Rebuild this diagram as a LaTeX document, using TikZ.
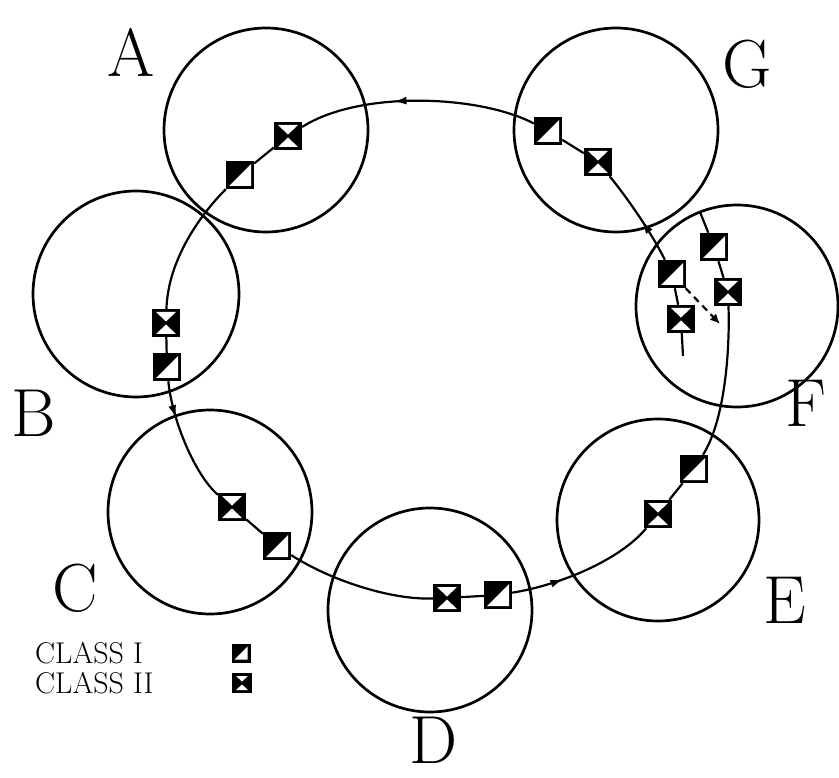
\documentclass[tikz,border=0pt]{standalone}
\usepackage{fontspec}
\usetikzlibrary{arrows.meta,decorations.markings}
\begin{document}
\begin{tikzpicture}[x=1pt,y=-1pt,
  ring/.style={draw, circle, line width=2.7pt, minimum size=#1, inner sep=0},
  conn/.style={line width=2.2pt},
  flowmark/.style={postaction={decorate}, decoration={markings, mark=at position #1 with {\arrow{Latex[length=13pt,width=8pt]}}}},
  cI/.style={rectangle, minimum size=#1, inner sep=0, fill=black,
    path picture={\fill[white] ([shift={(3pt,3pt)}]path picture bounding box.south west) -- ([shift={(-3pt,3pt)}]path picture bounding box.south east) -- ([shift={(-3pt,-3pt)}]path picture bounding box.north east) -- cycle;}},
  cII/.style={rectangle, minimum size=#1, inner sep=0, fill=black,
    path picture={\fill[white] ([shift={(4pt,-3pt)}]path picture bounding box.north west) -- ([shift={(-4pt,-3pt)}]path picture bounding box.north east) -- ([shift={(0pt,1.5pt)}]path picture bounding box.center) -- cycle;
    \fill[white] ([shift={(4pt,3pt)}]path picture bounding box.south west) -- ([shift={(-4pt,3pt)}]path picture bounding box.south east) -- ([shift={(0pt,-1.5pt)}]path picture bounding box.center) -- cycle;}},
  biglabel/.style={font=\fontsize{68}{68}\selectfont, inner sep=0},
  legtext/.style={font=\fontsize{30}{30}\selectfont, inner sep=0, anchor=west}
]
\useasboundingbox (0,0) rectangle (839,778);
% circles
\node[ring=204pt] (cA) at (266,130) {};
\node[ring=204pt] (cG) at (616,130) {};
\node[ring=206pt] (cB) at (136,294) {};
\node[ring=202pt] (cF) at (737,306) {};
\node[ring=204pt] (cC) at (210,512) {};
\node[ring=202pt] (cE) at (658,520) {};
\node[ring=204pt] (cD) at (430,610) {};
% labels
\node[biglabel] (lA) at (131,52) {A};
\node[biglabel] (lG) at (747,64) {G};
\node[biglabel] (lB) at (34,413) {B};
\node[biglabel] (lF) at (806,403) {F};
\node[biglabel] (lC) at (75,588) {C};
\node[biglabel] (lE) at (785,600) {E};
\node[biglabel] (lD) at (434,740) {D};
% markers
\node[cII=28pt] (a2) at (288,136) {};
\node[cI=28pt] (a1) at (240,175) {};
\node[cI=28pt] (g1) at (548,131) {};
\node[cII=28pt] (g2) at (598,162) {};
\node[cII=28pt] (b2) at (166,323) {};
\node[cI=28pt] (b1) at (167,367) {};
\node[cII=28pt] (c2) at (232,507) {};
\node[cI=28pt] (c1) at (277,546) {};
\node[cII=28pt] (d2) at (447,598) {};
\node[cI=28pt] (d1) at (498,595) {};
\node[cII=28pt] (e2) at (658,514) {};
\node[cI=28pt] (e1) at (694,469) {};
\node[cI=28pt] (f1) at (714,247) {};
\node[cII=28pt] (f2) at (728,292) {};
\node[cI=28pt] (f3) at (672,274) {};
\node[cII=28pt] (f4) at (681,319) {};
\coordinate (fend) at (700,212);
\coordinate (fstem) at (683,356);
\coordinate (fdash) at (720,324);
% connectors
\draw[conn, flowmark=0.6] (g1) .. controls (480,95) and (360,90) .. (a2);
\draw[conn] (a2) -- (a1);
\draw[conn] (a1) .. controls (200,215) and (168,260) .. (b2);
\draw[conn] (b2) -- (b1);
\draw[conn, flowmark=0.3] (b1) .. controls (172,420) and (195,475) .. (c2);
\draw[conn] (c2) -- (c1);
\draw[conn] (c1) .. controls (330,580) and (390,600) .. (d2);
\draw[conn] (d2) -- (d1);
\draw[conn, flowmark=0.35] (d1) .. controls (560,585) and (620,560) .. (e2);
\draw[conn] (e2) -- (e1);
\draw[conn] (e1) .. controls (725,420) and (730,350) .. (f2);
\draw[conn] (f2) -- (f1);
\draw[conn] (f1) -- (fend);
\draw[conn] (f3) -- (f4);
\draw[conn] (f4) -- (fstem);
\draw[conn, flowmark=0.45] (f3) .. controls (650,230) and (625,195) .. (g2);
\draw[conn] (g2) -- (g1);
\draw[conn, dashed, dash pattern=on 7pt off 5pt, -{Latex[length=10pt,width=9pt]}] (f3) -- (fdash);
% legend
\node[legtext] (t1) at (35,653) {CLASS I};
\node[legtext] (t2) at (35,683) {CLASS II};
\node[cI=19pt] (m1) at (241,653) {};
\node[cII=20pt] (m2) at (242,683) {};
\end{tikzpicture}
\end{document}
